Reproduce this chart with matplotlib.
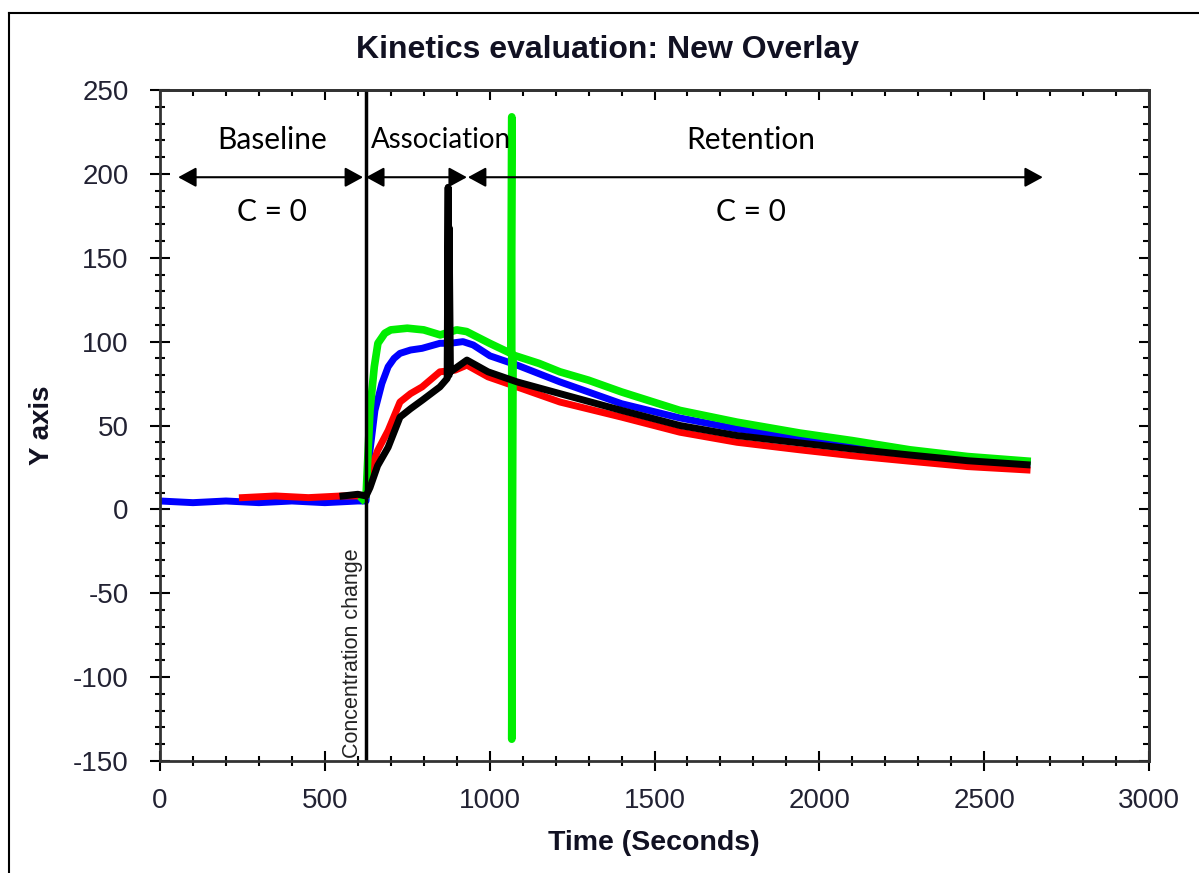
import matplotlib
matplotlib.use("Agg")
import matplotlib.pyplot as plt
from matplotlib.lines import Line2D
from matplotlib.ticker import MultipleLocator

plt.rcParams["axes.unicode_minus"] = False

# traces (time in s, response)
blue_t = [0, 100, 200, 300, 400, 500, 600, 625, 637, 652, 673, 692, 710, 728, 760, 795, 849, 880,
          919, 950, 1001, 1083, 1213, 1400, 1577, 1750, 1941, 2100, 2275, 2450, 2630]
blue_v = [5, 4, 5, 4, 5, 4, 5, 5, 35, 59, 75, 85, 90, 93, 95, 96, 99, 99,
          100, 98, 91.5, 86, 76, 63, 54.5, 48, 42.6, 38, 34, 30.5, 27.5]

red_t = [250, 350, 450, 550, 625, 637, 660, 692, 728, 760, 795, 849, 895, 931, 995, 1083, 1213,
         1400, 1577, 1750, 1941, 2100, 2275, 2450, 2630]
red_v = [7, 8, 7, 8, 8, 22, 35, 47, 64, 69, 73, 82, 83, 86, 79, 73, 64,
         55, 46, 40, 35.5, 32, 28.7, 25.5, 23.5]

green_t = [615, 625, 637, 650, 661, 682, 700, 750, 800, 850, 900, 930, 960, 1000, 1064,
           1067, 1067, 1069, 1071, 1150, 1213, 1300, 1400, 1577, 1750, 1941, 2100, 2275, 2450, 2630]
green_v = [6, 8, 59, 85, 99, 105, 107, 108, 107, 104, 107, 106, 103, 99, 93,
           234, -137, -23, 92, 87, 82, 77, 70, 59, 52, 45.5, 41, 35.5, 31.5, 28.8]

black_t = [555, 600, 625, 637, 660, 692, 728, 760, 795, 849, 871, 874, 874, 877, 877, 881, 931,
           995, 1083, 1213, 1400, 1577, 1750, 1941, 2100, 2275, 2450, 2630]
black_v = [8, 9, 8, 13, 26, 37, 55, 60, 65, 73, 78, 192, 80, 80, 168, 82, 89,
           82, 76, 69, 59, 50, 44, 39.6, 36, 32.4, 29, 26.6]

conc_change_t = 625

phase_names = ["Baseline", "Association", "Retention"]
phase_spans = [(55, 616), (625, 931), (934, 2678)]
phase_label_x = [340, 852, 1793]
phase_label_size = [21.5, 20, 21.5]
phase_conc_x = [340, None, 1793]

fig = plt.figure(figsize=(11.99, 8.73), dpi=100)
ax = fig.add_axes([160 / 1199, 1 - 761 / 873, 989 / 1199, 671 / 873])

ax.plot(blue_t, blue_v, color="#0000ff", lw=5)
ax.plot(red_t, red_v, color="#ff0000", lw=5)
ax.plot(green_t, green_v, color="#00ee00", lw=5.5)
ax.plot(black_t, black_v, color="#000000", lw=5)

ax.axvline(conc_change_t, color="black", lw=2.5)
ax.text(conc_change_t - 8, -148, "Concentration change", rotation=90, ha="right", va="bottom",
        fontsize=15.5, family="Liberation Sans", color="#222")

# phase arrows and labels
for name, (a, b), lx, fs, cx in zip(phase_names, phase_spans, phase_label_x,
                                    phase_label_size, phase_conc_x):
    ax.annotate("", xy=(b, 198), xytext=(a, 198),
                arrowprops=dict(arrowstyle="<|-|>,head_length=0.55,head_width=0.3",
                                mutation_scale=20, lw=1.5, color="black",
                                shrinkA=0, shrinkB=0))
    ax.text(lx, 220, name, ha="center", va="center", fontsize=fs, family="Lato")
    if cx is not None:
        ax.text(cx, 177, "C = 0", ha="center", va="center", fontsize=21.5, family="Lato")

ax.set_xlim(0, 3000)
ax.set_ylim(-150, 250)
ax.xaxis.set_major_locator(MultipleLocator(500))
ax.xaxis.set_minor_locator(MultipleLocator(100))
ax.yaxis.set_major_locator(MultipleLocator(50))
ax.yaxis.set_minor_locator(MultipleLocator(10))

for s in ax.spines.values():
    s.set_linewidth(2)
    s.set_color("#333")

ax.tick_params(which="major", direction="inout", length=15, width=1.5, labelsize=20,
               labelcolor="#222233")
ax.tick_params(which="minor", direction="inout", length=7, width=1.5)
ax.tick_params(axis="x", which="major", pad=12)
ax.tick_params(axis="y", which="major", pad=15)
for lab in ax.get_xticklabels() + ax.get_yticklabels():
    lab.set_family("Liberation Sans")

top = ax.secondary_xaxis("top")
top.xaxis.set_major_locator(MultipleLocator(500))
top.xaxis.set_minor_locator(MultipleLocator(100))
top.tick_params(which="major", direction="in", length=7, width=1.5, labeltop=False)
top.tick_params(which="minor", direction="in", length=4.5, width=1.5)
right = ax.secondary_yaxis("right")
right.yaxis.set_major_locator(MultipleLocator(50))
right.yaxis.set_minor_locator(MultipleLocator(10))
right.tick_params(which="major", direction="in", length=7, width=1.5, labelright=False)
right.tick_params(which="minor", direction="in", length=4.5, width=1.5)
for sec in (top, right):
    for s in sec.spines.values():
        s.set_linewidth(2)
        s.set_color("#333")

fig.text(607 / 1199, 1 - 50 / 873, "Kinetics evaluation: New Overlay", ha="center", va="center",
         fontsize=23, fontweight="bold", family="Liberation Sans", color="#111122")
fig.text(654 / 1199, 1 - 843 / 873, "Time (Seconds)", ha="center", va="center",
         fontsize=20.5, fontweight="bold", family="Liberation Sans", color="#111122")
fig.text(42 / 1199, 1 - 425 / 873, "Y axis", ha="center", va="center", rotation=90,
         fontsize=20, fontweight="bold", family="Liberation Sans", color="#111122")

# outer frame (left and top edges visible)
fig.add_artist(Line2D([8.5 / 1199, 8.5 / 1199], [0, 1 - 13 / 873], color="black", lw=1.5,
                      transform=fig.transFigure))
fig.add_artist(Line2D([8.5 / 1199, 1], [1 - 13 / 873, 1 - 13 / 873], color="black", lw=1.5,
                      transform=fig.transFigure))

fig.savefig("out.png", dpi=100)
